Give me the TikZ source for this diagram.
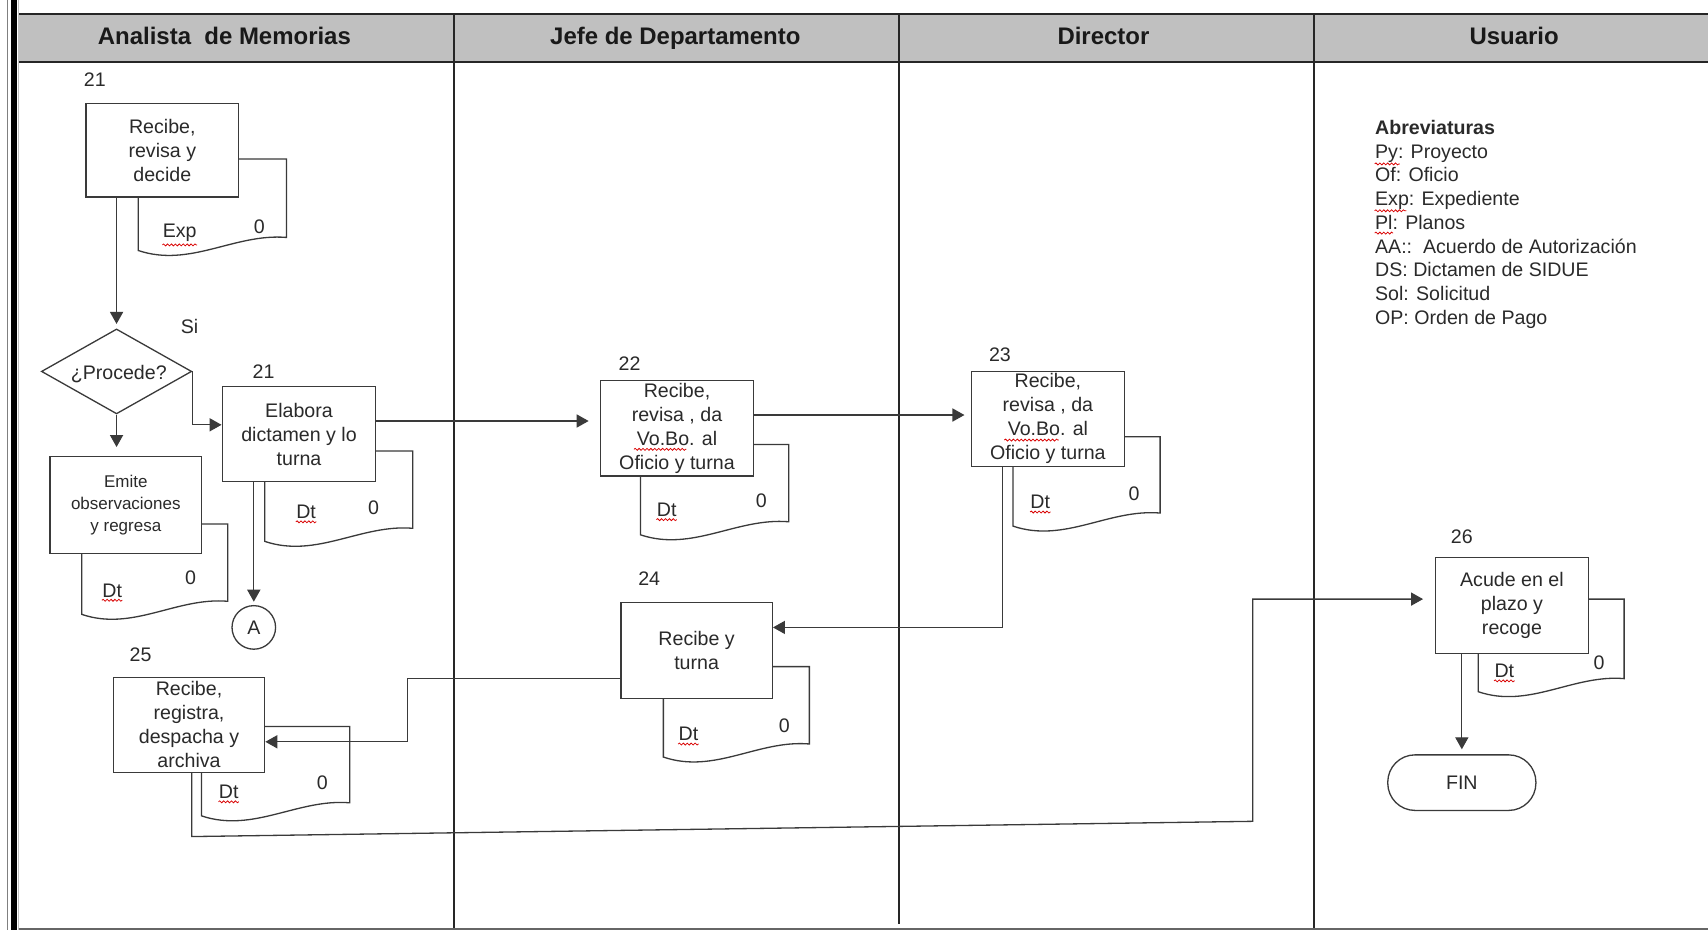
\documentclass[tikz,border=0pt]{standalone}
\usepackage{fontspec}
\setmainfont{Liberation Sans}
\usetikzlibrary{shapes.geometric,arrows.meta,decorations.pathmorphing}
\definecolor{ln}{HTML}{3A3A3A}
\definecolor{tx}{HTML}{2A2A2A}
\definecolor{hdr}{HTML}{C0C0C0}
\newcommand{\docshape}[4]{%
  \filldraw[docst] (#1,#2) -- (#3,#2) -- (#3,#4)
    .. controls ({#1+0.65*(#3-#1)},{#4-4}) and ({#1+0.35*(#3-#1)},{#4+28}) .. (#1,{#4+12}) -- cycle;}
\begin{document}
\begin{tikzpicture}[x=0.5pt,y=-0.5pt,
  box/.style={draw=ln, fill=white, line width=0.6pt, rectangle, inner sep=0pt, align=center, text=tx, font=\fontsize{9}{11}\selectfont},
  docst/.style={draw=ln, fill=white, line width=0.6pt},
  lbl/.style={text=tx, font=\fontsize{9}{11}\selectfont, inner sep=0pt},
  arr/.style={draw=ln, line width=0.6pt, -{Triangle[length=5.5pt,width=6pt]}},
  conn/.style={draw=ln, line width=0.6pt},
  lane/.style={draw=black!85, line width=1pt},
  spell/.style={draw=red!85!black, line width=0.35pt, decorate, decoration={snake, amplitude=0.45pt, segment length=1.8pt}},
  hd/.style={text=black!90, font=\fontsize{11}{13}\selectfont\bfseries, inner sep=0pt, text height=8pt, text depth=2.3pt}
]
\useasboundingbox (0,0) rectangle (1568,854);
% frame
\fill[hdr] (17,13) rectangle (1568,57);
\draw[black!85, line width=1.2pt] (17,13) -- (1568,13);
\draw[black!85, line width=1.2pt] (17,57) -- (1568,57);
\draw[lane] (417,13) -- (417,854);
\draw[lane] (825,13) -- (825,848);
\draw[lane] (1206,13) -- (1206,854);
\fill[black] (10,0) rectangle (15.3,854);
\draw[gray, line width=0.5pt] (7.3,0) -- (7.3,854);
\draw[gray!50, line width=0.4pt] (16.5,0) -- (16.5,854);
\draw[gray!80!black, line width=1pt] (17,853) -- (1568,853);
% headers
\node[hd] (h1) at (206,35) {Analista\ \ de Memorias};
\node[hd] (h2) at (620,35) {Jefe de Departamento};
\node[hd] (h3) at (1013,35) {Director};
\node[hd] (h4) at (1390,35) {Usuario};
% documents
\docshape{127}{146}{263}{218}
\docshape{243}{414}{379}{485}
\docshape{75}{481}{209}{552}
\docshape{185}{667}{321}{737}
\docshape{609}{612}{743}{683}
\docshape{588}{408}{724}{479}
\docshape{930}{401}{1065}{471}
\docshape{1357}{550}{1491}{623}
% boxes
\node[box, minimum width=70pt, minimum height=43pt] (b21a) at (149,138) {Recibe,\\revisa y\\decide};
\node[box, minimum width=70.5pt, minimum height=43.5pt] (b21b) at (274.5,398.5) {Elabora\\dictamen y lo\\turna};
\node[box, minimum width=69.5pt, minimum height=44.5pt, font=\fontsize{7.8}{10}\selectfont] (bE) at (115.5,463.5) {Emite\\observaciones\\y regresa};
\node[box, minimum width=69.5pt, minimum height=43.5pt] (b25) at (173.5,665.5) {Recibe,\\registra,\\despacha y\\archiva};
\node[box, minimum width=69.5pt, minimum height=44pt] (b24) at (639.5,597) {Recibe y\\turna};
\node[box, minimum width=70.5pt, minimum height=44pt] (b22) at (621.5,393) {Recibe,\\revisa , da\\Vo.Bo. al\\Oficio y turna};
\node[box, minimum width=70pt, minimum height=43.5pt] (b23) at (962,384.5) {Recibe,\\revisa , da\\Vo.Bo. al\\Oficio y turna};
\node[box, minimum width=70pt, minimum height=44pt] (b26) at (1388,556) {Acude en el\\plazo y\\recoge};
\node[draw=ln, line width=0.6pt, diamond, aspect=1.77, minimum width=69pt, minimum height=39pt, inner sep=0pt, fill=white, text=tx, font=\fontsize{9}{11}\selectfont] (dia) at (107,341) {};
\node[lbl] (diatxt) at (109,343) {¿Procede?};
\node[draw=ln, circle, minimum size=20pt, line width=0.6pt, lbl] (cA) at (233,576) {A};
\node[draw=ln, rounded corners=12.5pt, minimum width=68pt, minimum height=25.5pt, line width=0.6pt, lbl] (fin) at (1342,718.5) {FIN};
% step numbers
\node[lbl] (n21a) at (87,73) {21};
\node[lbl] (nsi) at (174,300) {Si};
\node[lbl] (n21b) at (242,341) {21};
\node[lbl] (n22) at (578,334) {22};
\node[lbl] (n23) at (918,326) {23};
\node[lbl] (n24) at (596,531) {24};
\node[lbl] (n25) at (129,601) {25};
\node[lbl] (n26) at (1342,493) {26};
% document labels
\node[lbl] (d1a) at (165,214) {Exp};   \node[lbl] (d1b) at (238,208) {0};
\node[lbl] (d2a) at (281,470) {Dt};    \node[lbl] (d2b) at (343,466) {0};
\node[lbl] (d3a) at (103,542) {Dt};    \node[lbl] (d3b) at (175,530) {0};
\node[lbl] (d4a) at (210,727) {Dt};    \node[lbl] (d4b) at (296,719) {0};
\node[lbl] (d5a) at (632,674) {Dt};    \node[lbl] (d5b) at (720,666) {0};
\node[lbl] (d6a) at (612,468) {Dt};    \node[lbl] (d6b) at (699,460) {0};
\node[lbl] (d7a) at (955,461) {Dt};    \node[lbl] (d7b) at (1041,453) {0};
\node[lbl] (d8a) at (1381,616) {Dt};   \node[lbl] (d8b) at (1468,608) {0};
\foreach \n in {d1a,d2a,d3a,d4a,d5a,d6a,d7a,d8a}
  \draw[spell] ([yshift=-1.2pt]\n.south west) -- ([yshift=-1.2pt]\n.south east);
\draw[spell] (582,412.5) -- (630,412.5);
\draw[spell] (922,404) -- (972,404);
% abbreviations
\node[lbl, anchor=north west, align=left, font=\fontsize{9}{10.9}\selectfont] (abbr) at (1262,110)
  {\textbf{Abreviaturas}\\Py: Proyecto\\Of: Oficio\\Exp: Expediente\\Pl: Planos\\AA::\ \ Acuerdo de Autorización\\DS: Dictamen de SIDUE\\Sol: Solicitud\\OP: Orden de Pago};
\draw[spell] (1262,150.5) -- (1285,150.5);
\draw[spell] (1262,193.5) -- (1291,193.5);
\draw[spell] (1262,214) -- (1279,214);
% connectors
\coordinate (c1) at (374,650);
\coordinate (c2) at (176,768);
\coordinate (c3) at (1150,754);
\draw[arr, shorten >=2pt] (b21a.south -| dia.north) -- (dia.north);
\draw[arr] (dia.east) |- ([yshift=4.25pt]b21b.west);
\draw[arr, shorten >=4pt] (dia.south) -- (dia.south |- bE.north);
\draw[arr, shorten >=1.5pt] (b21b.south -| cA.north) -- (cA.north);
\draw[arr, shorten >=5pt] ([yshift=6pt]b21b.east) -- ([yshift=6pt]b21b.east -| b22.west);
\draw[arr, shorten >=3pt] ([yshift=6pt]b22.east) -- ([yshift=6pt]b22.east -| b23.west);
\draw[arr] ([xshift=-21pt]b23.south) |- ([yshift=10.5pt]b24.east);
\draw[arr] ([yshift=-13pt]b24.west) -| (c1) |- ([yshift=-7.75pt]b25.east);
\draw[arr, shorten >=5.5pt] ([xshift=1.25pt]b25.south) -- (c2) -- (c3) |- ([yshift=3pt]b26.west);
\draw[arr, shorten >=2.25pt] (b26.south -| fin.north) -- (fin.north);
\end{tikzpicture}
\end{document}
